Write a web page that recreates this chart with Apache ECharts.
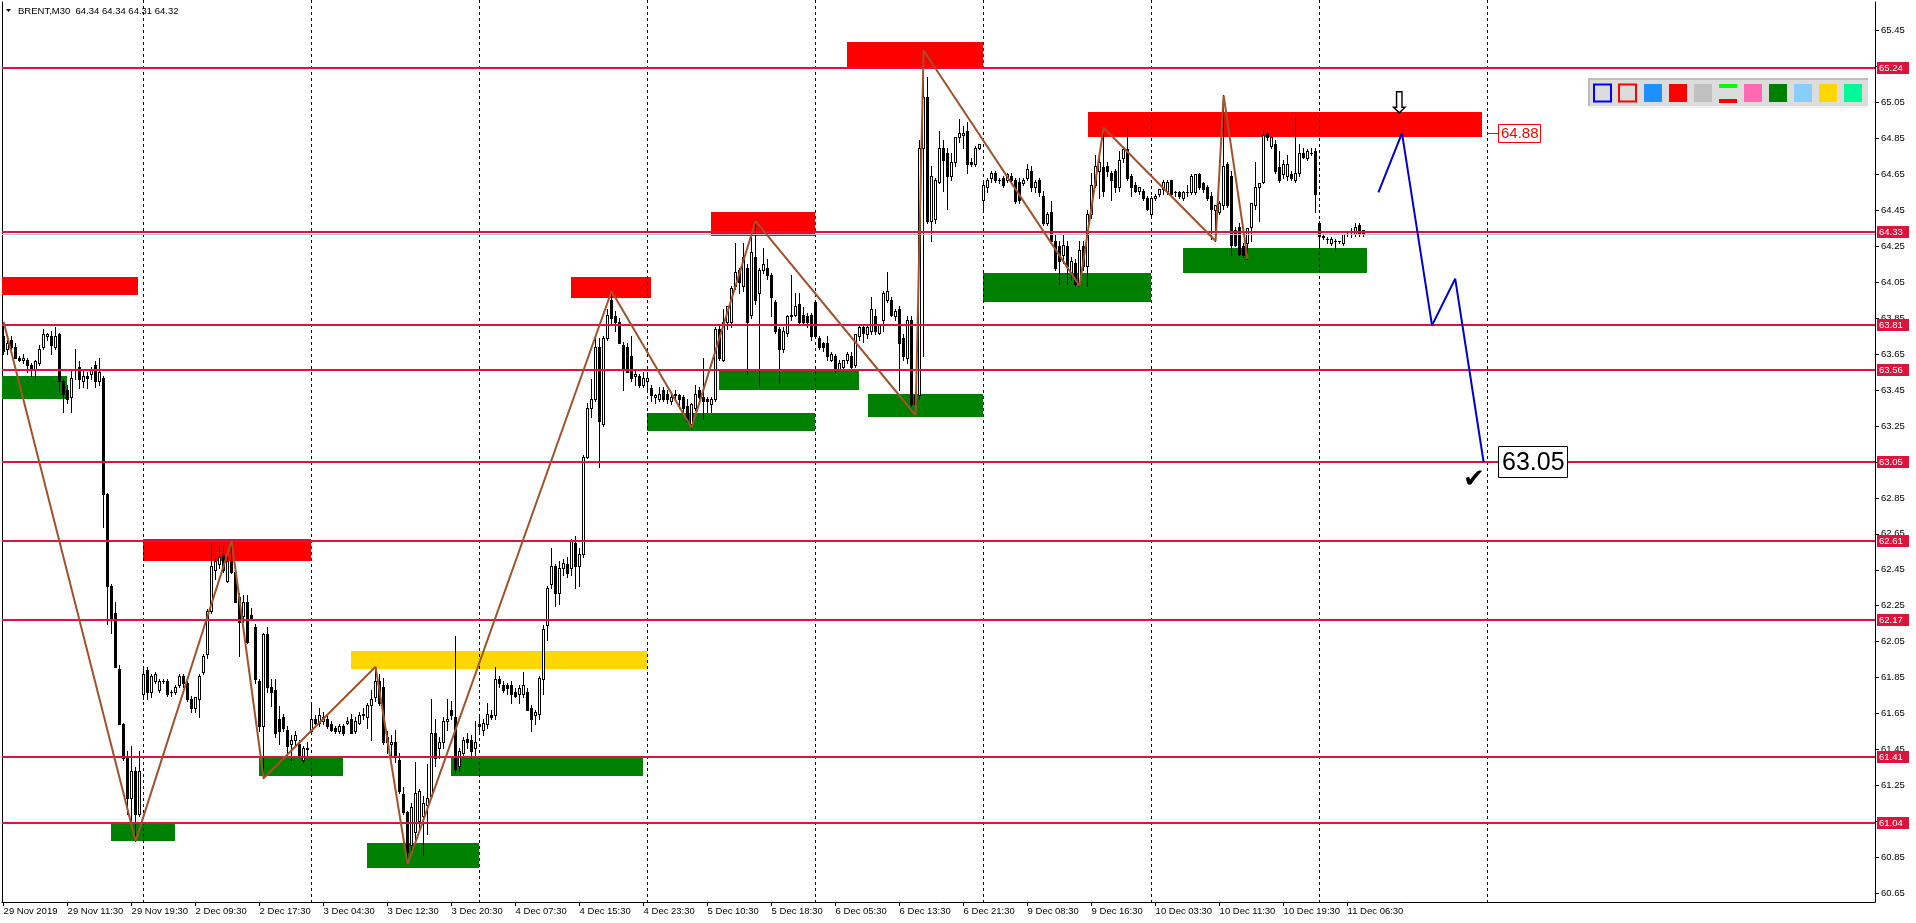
<!DOCTYPE html>
<html>
<head>
<meta charset="utf-8">
<title>BRENT,M30</title>
<script src="https://cdn.jsdelivr.net/npm/echarts@6.0.0/dist/echarts.min.js"></script>
<style>
html,body{margin:0;padding:0;background:#fff;overflow:hidden}
#chart{width:1916px;height:923px}
</style>
</head>
<body>
<div id="chart"></div>
<script>
// ================= DATA =================
const symbolTitle = 'BRENT,M30';
const lastOHLC = [64.34, 64.34, 64.31, 64.32];

const timeLabels = ['29 Nov 2019','29 Nov 11:30','29 Nov 19:30','2 Dec 09:30','2 Dec 17:30','3 Dec 04:30',
  '3 Dec 12:30','3 Dec 20:30','4 Dec 07:30','4 Dec 15:30','4 Dec 23:30','5 Dec 10:30','5 Dec 18:30',
  '6 Dec 05:30','6 Dec 13:30','6 Dec 21:30','9 Dec 08:30','9 Dec 16:30','10 Dec 03:30','10 Dec 11:30',
  '10 Dec 19:30','11 Dec 06:30'];
const timeLabelStep = 16; // bars between time labels

const priceTickLabels = ['60.65','60.85','61.05','61.25','61.45','61.65','61.85','62.05','62.25','62.45',
  '62.65','62.85','63.05','63.25','63.45','63.65','63.85','64.05','64.25','64.45','64.65','64.85',
  '65.05','65.25','65.45'];

// M30 candles: [open, high, low, close]
const candles = [
[63.75,63.83,63.65,63.67],[63.68,63.73,63.65,63.71],[63.73,63.75,63.68,63.69],[63.69,63.71,63.63,63.63],
[63.63,63.64,63.61,63.62],[63.62,63.65,63.60,63.63],[63.62,63.63,63.55,63.59],[63.59,63.60,63.53,63.56],
[63.56,63.62,63.51,63.61],[63.60,63.70,63.59,63.68],[63.69,63.79,63.68,63.76],[63.75,63.77,63.73,63.76],
[63.75,63.78,63.65,63.70],[63.69,63.80,63.68,63.75],[63.76,63.77,63.44,63.50],[63.50,63.51,63.33,63.43],
[63.45,63.48,63.38,63.40],[63.41,63.57,63.33,63.52],[63.57,63.68,63.51,63.56],[63.58,63.61,63.46,63.51],
[63.50,63.56,63.47,63.53],[63.53,63.55,63.46,63.52],[63.54,63.58,63.51,63.57],[63.59,63.61,63.47,63.50],
[63.50,63.63,63.48,63.55],[63.52,63.53,62.69,62.87],[62.87,62.88,62.15,62.36],[62.36,62.37,62.10,62.18],
[62.21,62.27,61.91,61.91],[61.90,61.92,61.59,61.59],[61.59,61.60,61.39,61.40],[61.40,61.44,61.09,61.18],
[61.18,61.47,61.05,61.33],[61.33,61.35,60.94,61.09],[61.09,61.44,61.08,61.33],[61.76,61.91,61.73,61.87],
[61.89,61.91,61.73,61.77],[61.77,61.87,61.74,61.86],[61.83,61.88,61.82,61.87],[61.78,61.84,61.77,61.83],
[61.83,61.84,61.82,61.83],[61.83,61.84,61.75,61.76],[61.77,61.78,61.75,61.77],[61.77,61.81,61.76,61.80],
[61.81,61.87,61.80,61.86],[61.86,61.87,61.80,61.82],[61.82,61.83,61.72,61.73],[61.73,61.75,61.66,61.68],
[61.68,61.74,61.66,61.74],[61.73,61.87,61.63,61.86],[61.88,61.98,61.87,61.97],[61.98,62.23,61.96,62.22],
[62.22,62.60,62.21,62.47],[62.45,62.51,62.40,62.50],[62.48,62.58,62.46,62.52],[62.53,62.58,62.44,62.45],
[62.39,62.55,62.38,62.50],[62.50,62.61,62.43,62.44],[62.44,62.46,62.27,62.27],[62.30,62.32,61.97,62.16],
[62.19,62.31,62.16,62.27],[62.27,62.31,62.04,62.05],[62.20,62.24,62.17,62.18],[62.13,62.15,61.82,61.84],
[61.83,61.84,61.55,61.58],[61.58,62.10,61.29,62.09],[62.09,62.13,61.77,61.80],[61.80,61.84,61.69,61.77],
[61.78,61.84,61.52,61.54],[61.62,61.69,61.48,61.55],[61.63,61.65,61.55,61.57],[61.56,61.58,61.42,61.47],
[61.48,61.53,61.39,61.50],[61.50,61.55,61.47,61.53],[61.48,61.50,61.42,61.42],[61.39,61.47,61.38,61.46],
[61.45,61.49,61.42,61.46],[61.55,61.71,61.54,61.62],[61.62,61.64,61.59,61.60],[61.60,61.68,61.58,61.64],
[61.61,61.66,61.59,61.63],[61.62,61.64,61.57,61.58],[61.59,61.61,61.55,61.56],[61.57,61.58,61.54,61.55],
[61.55,61.59,61.54,61.58],[61.58,61.59,61.53,61.54],[61.60,61.63,61.59,61.61],[61.62,61.65,61.54,61.54],
[61.55,61.63,61.54,61.61],[61.60,61.66,61.59,61.64],[61.64,61.68,61.62,61.65],[61.63,61.71,61.57,61.70],
[61.70,61.78,61.50,61.73],[61.74,61.91,61.72,61.83],[61.83,61.87,61.70,61.71],[61.80,61.85,61.48,61.49],
[61.52,61.55,61.43,61.49],[61.48,61.53,61.42,61.49],[61.49,61.56,61.38,61.42],[61.39,61.43,61.21,61.22],
[61.20,61.24,61.09,61.10],[61.10,61.11,60.81,60.88],[60.92,61.15,60.88,61.13],[60.99,61.38,60.94,61.21],
[61.05,61.23,60.99,61.22],[61.08,61.19,60.86,61.15],[61.14,61.37,60.98,61.18],[61.19,61.73,61.18,61.54],
[61.54,61.62,61.36,61.40],[61.46,61.52,61.40,61.49],[61.49,61.63,61.46,61.61],[61.61,61.73,61.56,61.62],
[61.67,61.72,61.62,61.64],[61.63,62.08,61.32,61.34],[61.36,61.46,61.33,61.44],[61.43,61.52,61.41,61.50],
[61.51,61.54,61.46,61.49],[61.50,61.53,61.40,61.44],[61.46,61.61,61.42,61.49],[61.59,61.64,61.54,61.58],
[61.56,61.62,61.53,61.60],[61.59,61.71,61.57,61.65],[61.64,61.67,61.62,61.63],[61.64,61.91,61.62,61.84],
[61.84,61.86,61.80,61.82],[61.81,61.83,61.77,61.78],[61.81,61.82,61.76,61.79],[61.81,61.83,61.71,61.76],
[61.77,61.79,61.74,61.75],[61.76,61.81,61.71,61.79],[61.76,61.88,61.74,61.81],[61.77,61.79,61.67,61.67],
[61.68,61.70,61.55,61.62],[61.64,61.67,61.59,61.66],[61.65,61.86,61.62,61.85],[61.84,62.14,61.76,62.12],
[62.14,62.36,62.06,62.35],[62.37,62.57,62.35,62.47],[62.47,62.48,62.25,62.32],[62.32,62.50,62.26,62.46],
[62.46,62.51,62.42,62.49],[62.48,62.52,62.41,62.43],[62.46,62.62,62.42,62.61],[62.60,62.64,62.35,62.47],
[62.47,62.57,62.36,62.54],[62.54,63.09,62.52,63.08],[63.08,63.38,63.07,63.35],[63.35,63.51,63.30,63.40],
[63.40,63.74,63.39,63.69],[63.69,63.74,63.02,63.28],[63.26,63.75,63.25,63.74],[63.74,63.90,63.73,63.87],
[63.95,64.00,63.82,63.85],[63.86,63.89,63.78,63.83],[63.83,63.85,63.71,63.71],[63.70,63.72,63.45,63.57],
[63.69,63.71,63.55,63.55],[63.64,63.75,63.50,63.52],[63.53,63.56,63.48,63.54],[63.53,63.54,63.47,63.48],
[63.48,63.55,63.47,63.52],[63.50,63.54,63.45,63.52],[63.46,63.48,63.39,63.42],[63.41,63.43,63.38,63.42],
[63.40,63.47,63.39,63.43],[63.45,63.47,63.39,63.40],[63.43,63.45,63.38,63.40],[63.39,63.42,63.37,63.41],
[63.42,63.45,63.40,63.43],[63.42,63.43,63.35,63.40],[63.41,63.42,63.33,63.35],[63.36,63.40,63.27,63.28],
[63.26,63.38,63.24,63.37],[63.35,63.48,63.34,63.43],[63.45,63.47,63.39,63.41],[63.41,63.63,63.29,63.39],
[63.40,63.41,63.33,63.39],[63.37,63.41,63.33,63.40],[63.40,63.80,63.39,63.79],[63.79,63.81,63.62,63.63],
[63.62,63.90,63.61,63.83],[63.83,63.92,63.79,63.92],[63.83,64.03,63.80,64.02],[64.03,64.27,64.01,64.11],
[64.12,64.13,63.99,64.05],[64.03,64.27,64.00,64.19],[64.13,64.15,63.54,63.83],[63.87,64.30,63.85,64.22],
[64.19,64.39,63.93,63.95],[63.99,64.13,63.48,64.12],[64.12,64.24,64.10,64.15],[64.13,64.18,64.07,64.09],
[64.09,64.10,63.86,63.97],[63.94,63.95,63.77,63.78],[63.79,63.80,63.49,63.68],[63.68,63.80,63.66,63.78],
[63.77,63.87,63.75,63.86],[63.86,64.09,63.84,63.87],[63.87,63.99,63.86,63.92],[63.93,63.99,63.81,63.83],
[63.87,63.91,63.81,63.83],[63.86,63.88,63.80,63.83],[63.87,63.88,63.73,63.75],[63.94,63.95,63.74,63.75],
[63.74,63.75,63.68,63.69],[63.71,63.72,63.67,63.69],[63.71,63.75,63.62,63.64],[63.62,63.66,63.61,63.65],
[63.64,63.65,63.55,63.57],[63.57,63.62,63.56,63.60],[63.58,63.62,63.56,63.62],[63.62,63.66,63.60,63.65],
[63.64,63.66,63.57,63.58],[63.59,63.76,63.58,63.76],[63.75,63.81,63.73,63.80],[63.80,63.81,63.72,63.77],
[63.76,63.81,63.74,63.80],[63.78,63.97,63.76,63.90],[63.86,63.90,63.76,63.78],[63.77,63.82,63.76,63.81],
[63.84,64.00,63.78,63.99],[63.95,64.11,63.94,64.00],[63.95,63.97,63.86,63.87],[63.86,63.90,63.84,63.89],
[63.90,63.92,63.45,63.71],[63.74,63.76,63.62,63.64],[63.63,63.86,63.60,63.84],[63.84,63.86,63.36,63.37],
[63.37,63.44,63.31,63.42],[63.42,64.84,63.40,64.80],[64.80,65.34,63.64,65.08],[65.08,65.19,64.38,64.39],
[64.39,64.70,64.28,64.64],[64.40,64.63,64.38,64.62],[64.61,64.89,64.60,64.80],[64.80,64.84,64.56,64.73],
[64.77,64.80,64.46,64.64],[64.64,64.77,64.62,64.72],[64.72,64.86,64.70,64.86],[64.86,64.96,64.83,64.88],
[64.87,64.92,64.80,64.88],[64.89,64.94,64.66,64.71],[64.72,64.74,64.70,64.71],[64.71,64.81,64.70,64.80],
[64.80,64.82,64.79,64.82],[64.51,64.60,64.46,64.59],[64.58,64.63,64.55,64.62],[64.63,64.67,64.61,64.66],
[64.66,64.67,64.61,64.62],[64.62,64.63,64.60,64.62],[64.63,64.64,64.58,64.59],[64.62,64.66,64.61,64.65],
[64.64,64.66,64.61,64.62],[64.62,64.63,64.49,64.50],[64.61,64.63,64.49,64.51],[64.60,64.63,64.59,64.62],
[64.63,64.71,64.62,64.68],[64.67,64.70,64.56,64.58],[64.58,64.62,64.55,64.61],[64.62,64.63,64.53,64.55],
[64.53,64.56,64.37,64.38],[64.38,64.44,64.37,64.43],[64.44,64.50,64.27,64.28],[64.28,64.32,64.12,64.13],
[64.25,64.28,64.04,64.17],[64.20,64.32,64.16,64.26],[64.25,64.28,64.04,64.14],[64.10,64.19,64.06,64.17],
[64.16,64.18,64.03,64.04],[64.04,64.28,64.03,64.23],[64.25,64.28,64.12,64.14],[64.14,64.45,64.03,64.43],
[64.43,64.66,64.41,64.59],[64.59,64.76,64.58,64.70],[64.67,64.76,64.52,64.72],[64.69,64.91,64.53,64.56],
[64.70,64.72,64.64,64.67],[64.66,64.67,64.51,64.62],[64.67,64.68,64.55,64.58],[64.58,64.78,64.56,64.73],
[64.74,64.80,64.72,64.79],[64.79,64.91,64.62,64.63],[64.64,64.65,64.53,64.58],[64.59,64.61,64.55,64.56],
[64.56,64.58,64.54,64.58],[64.56,64.57,64.51,64.52],[64.52,64.53,64.45,64.46],[64.43,64.53,64.42,64.52],
[64.52,64.54,64.51,64.53],[64.54,64.57,64.53,64.57],[64.57,64.62,64.54,64.61],[64.56,64.62,64.54,64.61],
[64.62,64.62,64.53,64.54],[64.55,64.56,64.53,64.55],[64.55,64.56,64.52,64.53],[64.52,64.56,64.51,64.55],
[64.55,64.59,64.53,64.55],[64.55,64.65,64.54,64.64],[64.55,64.65,64.54,64.65],[64.65,64.66,64.57,64.58],
[64.60,64.61,64.55,64.57],[64.58,64.59,64.51,64.52],[64.53,64.55,64.29,64.46],[64.45,64.48,64.28,64.48],
[64.44,64.50,64.43,64.49],[64.48,65.09,64.46,64.70],[64.71,64.72,64.47,64.48],[64.64,64.67,64.20,64.26],
[64.34,64.36,64.25,64.26],[64.36,64.38,64.20,64.21],[64.25,64.27,64.19,64.20],[64.27,64.35,64.18,64.35],
[64.36,64.49,64.28,64.49],[64.48,64.72,64.46,64.58],[64.58,64.60,64.39,64.60],[64.61,64.90,64.60,64.87],
[64.88,64.89,64.84,64.86],[64.81,64.86,64.80,64.86],[64.82,64.84,64.66,64.67],[64.69,64.78,64.61,64.62],
[64.65,64.73,64.63,64.71],[64.64,64.76,64.62,64.71],[64.65,64.67,64.62,64.63],[64.62,64.97,64.61,64.66],
[64.66,64.82,64.64,64.77],[64.77,64.80,64.74,64.75],[64.74,64.79,64.73,64.78],[64.77,64.80,64.76,64.77],
[64.78,64.80,64.44,64.54],[64.38,64.39,64.25,64.31],[64.30,64.32,64.29,64.31],[64.29,64.30,64.27,64.29],
[64.27,64.30,64.26,64.29],[64.28,64.29,64.23,64.28],[64.28,64.28,64.27,64.28],[64.27,64.32,64.26,64.32],
[64.32,64.33,64.31,64.32],[64.32,64.35,64.30,64.32],[64.32,64.38,64.31,64.36],[64.37,64.38,64.31,64.32],
[64.34,64.34,64.31,64.32]
];

// horizontal levels (crimson) with price tags on the scale
const levelPrices = [65.24, 64.33, 63.81, 63.56, 63.05, 62.61, 62.17, 61.41, 61.04];
const bidPrice = 64.32;

// zones: [fromBar, toBar, topPrice, bottomPrice]
const zonesRed = [[-0.4,33.6,64.08,63.98],[34.9,76.9,62.62,62.50],[141.85,161.8,64.08,63.96],
  [176.85,202.85,64.44,64.31],[210.85,244.85,65.39,65.24],[271,369.7,65.00,64.86]];
const zonesGreen = [[-0.4,15.8,63.53,63.40],[26.9,42.85,61.04,60.94],[63.85,84.8,61.40,61.30],
  [90.75,118.9,60.93,60.79],[111.8,159.8,61.40,61.30],[160.9,202.9,63.32,63.22],[178.85,213.85,63.56,63.45],
  [216,244.85,63.43,63.30],[244.85,286.85,64.10,63.94],[294.85,340.85,64.24,64.10]];
const zonesYellow = [[86.85,160.8,62.00,61.90]];

// zigzag swing points [bar, price]
const zigzagPoints = [[0,63.83],[33,60.94],[57,62.61],[65,61.29],[93,61.91],[101,60.81],[152,64.00],
  [172,63.24],[188,64.39],[228,63.31],[230,65.34],[269,64.03],[275,64.91],[303,64.28],[305,65.09],[311,64.18]];

// projected path [bar, price]
const forecastPoints = [[343.7,64.55],[349.6,64.88],[357.1,63.81],[362.9,64.07],[370,63.05]];

// vertical dashed grid positions (in bars)
const gridLineBars = [34.9,76.9,118.9,160.9,202.9,244.9,286.9,328.9,370.9];

const targetHigh = 64.88;
const targetLow = 63.05;
const arrowAt = [348.9, 64.97];
const checkAt = [367.6, 62.95];
const tagBar = 370.9;

const legendFills = ['#1E90FF','#FF0000','#C0C0C0',null,'#FF69B4','#008000','#87CEFA','#FFD700','#00FA9A'];

// ================= CHART =================
const barMin = -0.4, barMax = 467.85, priceMin = 60.601, priceMax = 65.61;
const FONT = '"Liberation Sans", Arial, sans-serif';
const chart = echarts.init(document.getElementById('chart'), null, {renderer: 'canvas'});

const labelBars = timeLabels.map((_, k) => k * timeLabelStep);
const zonesAll = [].concat(
  zonesRed.map(z => z.concat(['#FF0000'])),
  zonesGreen.map(z => z.concat(['#008000'])),
  zonesYellow.map(z => z.concat(['#FFD700']))
);

function crisp(v) { return Math.floor(v) + 0.5; }

const option = {
  animation: false,
  backgroundColor: '#ffffff',
  grid: {left: 2, right: 41, top: 2, bottom: 21, containLabel: false},
  xAxis: {
    type: 'value', min: barMin, max: barMax,
    splitLine: {show: false},
    axisLine: {show: true, onZero: false, lineStyle: {color: '#000', width: 1}},
    axisTick: {show: true, customValues: labelBars, length: 4, lineStyle: {color: '#000'}},
    axisLabel: {show: true, customValues: labelBars, margin: 4, align: 'left',
      color: '#000', fontFamily: FONT, fontSize: 9.5,
      formatter: v => timeLabels[Math.round(v / timeLabelStep)] || ''}
  },
  yAxis: [{
    type: 'value', position: 'right', min: priceMin, max: priceMax,
    splitLine: {show: false},
    axisLine: {show: true, onZero: false, lineStyle: {color: '#000', width: 1}},
    axisTick: {show: true, customValues: priceTickLabels.map(Number), length: 4, lineStyle: {color: '#000'}},
    axisLabel: {show: true, customValues: priceTickLabels.map(Number), margin: 6,
      color: '#000', fontFamily: FONT, fontSize: 9.5, formatter: v => v.toFixed(2)}
  }, {
    type: 'value', position: 'left', min: priceMin, max: priceMax,
    splitLine: {show: false}, axisTick: {show: false}, axisLabel: {show: false},
    axisLine: {show: true, onZero: false, lineStyle: {color: '#000', width: 1}}
  }],
  series: [
    { // zones
      type: 'custom', silent: true, z: 1, clip: true,
      data: zonesAll.map(z => [z[0], z[2]]),
      renderItem: (params, api) => {
        const z = zonesAll[params.dataIndex];
        const cs = params.coordSys;
        const p0 = api.coord([z[0], z[2]]), p1 = api.coord([z[1], z[3]]);
        const x0 = Math.max(cs.x, Math.round(p0[0])), x1 = Math.min(cs.x + cs.width, Math.round(p1[0]));
        const y0 = Math.round(p0[1]), y1 = Math.round(p1[1]);
        return {type: 'rect', shape: {x: x0, y: y0, width: x1 - x0, height: y1 - y0}, style: {fill: z[4]}};
      }
    },
    { // vertical dashed grid
      type: 'custom', silent: true, z: 2, clip: false,
      data: gridLineBars.map(b => [b, priceMax]),
      renderItem: (params, api) => {
        const cs = params.coordSys;
        const x = crisp(api.coord([api.value(0), priceMax])[0]);
        return {type: 'line', shape: {x1: x, y1: cs.y - 2, x2: x, y2: cs.y + cs.height},
          style: {stroke: '#000', lineWidth: 1, lineDash: [3, 3]}};
      }
    },
    { // candles
      type: 'custom', silent: true, z: 3, clip: true,
      data: candles.map((c, i) => [i, c[0], c[1], c[2], c[3]]),
      encode: {x: 0, y: [1, 2, 3, 4]},
      renderItem: (params, api) => {
        const i = api.value(0), o = api.value(1), h = api.value(2), l = api.value(3), c = api.value(4);
        const pO = api.coord([i, o]), pH = api.coord([i, h]), pL = api.coord([i, l]), pC = api.coord([i, c]);
        const cx = crisp(pO[0]);
        const yTop = Math.round(Math.min(pO[1], pC[1])), yBot = Math.round(Math.max(pO[1], pC[1]));
        const bh = Math.max(1, yBot - yTop + 1);
        const children = [
          {type: 'rect', shape: {x: cx - 0.5, y: Math.round(pH[1]), width: 1, height: Math.round(pL[1]) - Math.round(pH[1]) + 1}, style: {fill: '#000'}},
          {type: 'rect', shape: {x: cx - 1.5, y: yTop, width: 3, height: bh}, style: {fill: '#000'}}
        ];
        if (c > o && bh > 2) {
          children.push({type: 'rect', shape: {x: cx - 0.5, y: yTop + 1, width: 1, height: bh - 2}, style: {fill: '#fff'}});
        }
        return {type: 'group', children};
      }
    },
    { // bid line
      type: 'custom', silent: true, z: 4, clip: false,
      data: [[barMin, bidPrice]],
      renderItem: (params, api) => {
        const cs = params.coordSys;
        const y = crisp(api.coord([barMin, bidPrice])[1]);
        return {type: 'group', children: [
          {type: 'line', shape: {x1: cs.x, y1: y + 1, x2: cs.x + cs.width, y2: y + 1}, style: {stroke: '#C0C0C0', lineWidth: 1}},
          {type: 'line', shape: {x1: cs.x + cs.width + 2, y1: y + 2, x2: cs.x + cs.width + 34, y2: y + 2}, style: {stroke: '#000', lineWidth: 1}}
        ]};
      }
    },
    { // level lines with price tags
      type: 'custom', silent: true, z: 5, clip: false,
      data: levelPrices.map(p => [barMin, p]),
      renderItem: (params, api) => {
        const cs = params.coordSys;
        const p = api.value(1);
        const y = Math.round(api.coord([barMin, p])[1]);
        const right = cs.x + cs.width;
        return {type: 'group', children: [
          {type: 'rect', shape: {x: cs.x, y: y - 1, width: cs.width, height: 2}, style: {fill: '#DC143C'}},
          {type: 'rect', shape: {x: right + 2, y: y - 6, width: 32, height: 12}, style: {fill: '#DC143C'}},
          {type: 'text', style: {x: right + 4, y: y, text: p.toFixed(2), fill: '#fff',
            font: '9.5px ' + FONT, align: 'left', verticalAlign: 'middle'}}
        ]};
      }
    },
    { // zigzag
      type: 'line', silent: true, z: 6, symbol: 'none',
      data: zigzagPoints,
      lineStyle: {color: '#A0522D', width: 2}
    },
    { // forecast path
      type: 'line', silent: true, z: 6, symbol: 'none',
      data: forecastPoints,
      lineStyle: {color: '#0000CD', width: 2}
    },
    { // annotations
      type: 'custom', silent: true, z: 7, clip: false,
      data: [[tagBar, targetHigh]],
      renderItem: (params, api) => {
        const pHi = api.coord([tagBar, targetHigh]);
        const pLo = api.coord([tagBar, targetLow]);
        const pArrow = api.coord(arrowAt);
        const pCheck = api.coord(checkAt);
        const xh = Math.round(pHi[0]), yh = Math.round(pHi[1]);
        const xl = Math.round(pLo[0]), yl = Math.round(pLo[1]);
        return {type: 'group', children: [
          {type: 'line', shape: {x1: xh, y1: yh + 0.5, x2: xh + 11, y2: yh + 0.5}, style: {stroke: '#FF0000', lineWidth: 1}},
          {type: 'rect', shape: {x: xh + 11.5, y: yh - 8.5, width: 42, height: 18}, style: {fill: '#fff', stroke: '#FF0000', lineWidth: 1}},
          {type: 'text', style: {x: xh + 14, y: yh + 1, text: targetHigh.toFixed(2), fill: '#FF0000',
            font: '15px ' + FONT, align: 'left', verticalAlign: 'middle'}},
          {type: 'rect', shape: {x: xl + 11.5, y: yl - 15.5, width: 69, height: 31}, style: {fill: '#fff', stroke: '#000', lineWidth: 1}},
          {type: 'text', style: {x: xl + 15, y: yl + 1, text: targetLow.toFixed(2), fill: '#000',
            font: '25px ' + FONT, align: 'left', verticalAlign: 'middle'}},
          {type: 'text', style: {x: pArrow[0], y: pArrow[1] + 3, text: '\u21E9', fill: '#000',
            font: '30px "DejaVu Sans"', align: 'center', verticalAlign: 'bottom'}},
          {type: 'text', style: {x: pCheck[0], y: pCheck[1], text: '\u2714', fill: '#000',
            font: '26px "DejaVu Sans"', align: 'center', verticalAlign: 'middle'}}
        ]};
      }
    }
  ],
  graphic: []
};

// header text and triangle
option.graphic.push(
  {type: 'polygon', shape: {points: [[6, 9], [11, 9], [8.5, 12]]}, style: {fill: '#000'}, z: 10},
  {type: 'text', x: 18, y: 11, z: 10, style: {text: symbolTitle + '  ' + lastOHLC.map(v => v.toFixed(2)).join(' '),
    fill: '#000', font: '9.5px ' + FONT, verticalAlign: 'middle'}}
);

// tool palette (top right)
(function () {
  const bx = 1588, by = 78, bw = 280, bh = 30;
  const els = [
    {type: 'rect', shape: {x: bx, y: by, width: bw, height: bh}, style: {fill: '#DCDCDC'}},
    {type: 'rect', shape: {x: bx, y: by, width: bw, height: 2}, style: {fill: '#BDBDBD'}},
    {type: 'rect', shape: {x: bx, y: by, width: 2, height: bh}, style: {fill: '#BDBDBD'}},
    {type: 'rect', shape: {x: bx, y: by + bh - 2, width: bw, height: 2}, style: {fill: '#F2F2F2'}},
    {type: 'rect', shape: {x: 1594, y: 84.5, width: 17, height: 17}, style: {fill: '#DCDCDC', stroke: '#0000FF', lineWidth: 2}},
    {type: 'rect', shape: {x: 1619, y: 84.5, width: 17, height: 17}, style: {fill: '#DCDCDC', stroke: '#FF0000', lineWidth: 2}}
  ];
  legendFills.forEach((col, k) => {
    const x = 1644 + 25 * k;
    if (col === null) {
      els.push({type: 'rect', shape: {x: x, y: 84, width: 18, height: 4}, style: {fill: '#00FF00'}});
      els.push({type: 'rect', shape: {x: x, y: 99, width: 18, height: 4}, style: {fill: '#FF0000'}});
    } else {
      els.push({type: 'rect', shape: {x: x, y: 84, width: 18, height: 18}, style: {fill: col}});
    }
  });
  els.forEach(e => { e.z = 10; option.graphic.push(e); });
})();

chart.setOption(option);
</script>
</body>
</html>
